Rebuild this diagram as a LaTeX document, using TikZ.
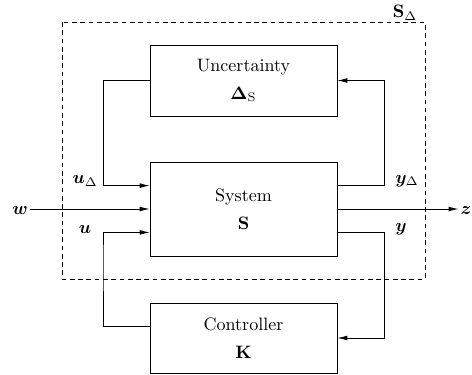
\documentclass[tikz,border=0pt]{standalone}
\usepackage{amsmath}
\usepackage{bm}
\usetikzlibrary{arrows.meta}

\begin{document}
\begin{tikzpicture}[
  x=0.5556pt,y=-0.5556pt,
  >={Latex[length=5.5pt,width=2.6pt]},
  block/.style={draw, thin, minimum width=103.9pt, align=center},
  signal/.style={->, thin},
  boundary/.style={draw, thin, dash pattern=on 2.6pt off 2pt},
  sig/.style={inner sep=1pt}
]

% Canvas: same proportions as the 472x374 reference
\path[use as bounding box] (0,0) rectangle (472,374);

% Dashed boundary of the uncertain system
\draw[boundary] (62,22) rectangle (425,279);
\node[sig] (slabel) at (405,13) {$\mathbf{S}_\Delta$};

% Blocks
\node[block, minimum height=39.4pt] (unc) at (243.5,80.5)
  {Uncertainty\\[3.5pt] $\bm{\Delta}_\mathrm{S}$};
\node[block, minimum height=52.2pt] (sys) at (243.5,209)
  {System\\[3.5pt] $\mathbf{S}$};
\node[block, minimum height=38.9pt] (ctrl) at (243.5,338)
  {Controller\\[3.5pt] $\mathbf{K}$};

% Loop columns
\coordinate (lcol) at (103,0);
\coordinate (rcol) at (384,0);

% External signals
\node[sig] (w) at (20,210) {$\bm{w}$};
\node[sig] (z) at (466,210) {$\bm{z}$};

% Signal labels
\node[sig] (ud) at (85,181) {$\bm{u}_\Delta$};
\node[sig] (yd) at (407,181) {$\bm{y}_\Delta$};
\node[sig] (u) at (85,229) {$\bm{u}$};
\node[sig] (y) at (401,229) {$\bm{y}$};

% Uncertainty loop
\draw[signal] (unc.west) -- (unc.west -| lcol) |- ([yshift=13pt]sys.west);
\draw[signal] ([yshift=13pt]sys.east) -| (rcol |- sys.north) |- (unc.east);

% Performance channel
\draw[signal] (w.east |- sys.west) -- (sys.west);
\draw[signal] (sys.east) -- (z.west |- sys.east);

% Control loop
\draw[signal] ([yshift=-13pt]sys.east) -| (rcol |- ctrl.north) |- (ctrl.east);
\draw[signal] ([yshift=6.7pt]ctrl.west) -| (lcol |- sys.south) |- ([yshift=-13pt]sys.west);

\end{tikzpicture}
\end{document}
